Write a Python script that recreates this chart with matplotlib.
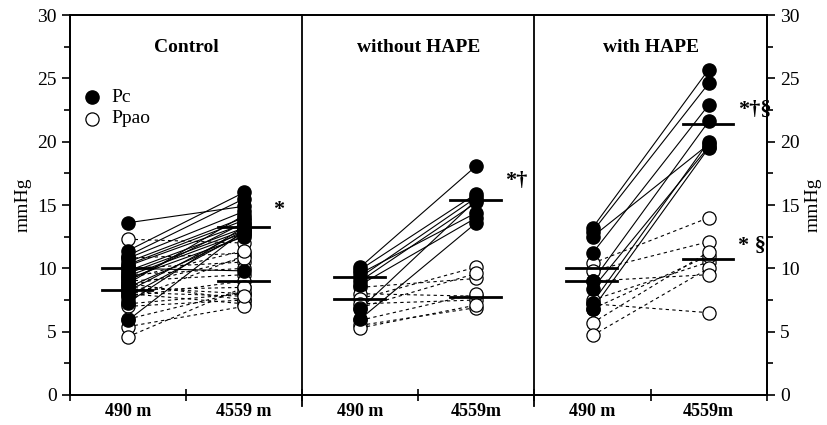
import matplotlib.pyplot as plt

plt.rcParams['font.family'] = ['Liberation Serif', 'DejaVu Serif']

panels = ['Control', 'without HAPE', 'with HAPE']
site_labels = ['490 m', '4559 m', '490 m', '4559m', '490 m', '4559m']

# Pc (filled) and Ppao (open) per subject, low altitude -> high altitude
pc_low = [
    [13.6, 11.4, 11.0, 10.8, 10.5, 10.3, 10.2, 10.0, 9.8, 9.6, 9.4, 9.2, 9.0, 8.8, 8.5, 8.2, 7.8, 7.3, 5.9],
    [10.1, 9.9, 9.6, 9.3, 9.0, 8.7, 6.8, 6.0],
    [13.2, 12.9, 12.5, 11.2, 9.0, 8.4, 7.3, 6.8],
]
pc_high = [
    [14.9, 16.0, 15.5, 14.5, 14.0, 13.8, 13.5, 9.8, 13.2, 13.0, 12.8, 12.5, 13.6, 14.2, 12.6, 13.0, 12.8, 13.3, 13.0],
    [18.1, 15.9, 14.4, 15.6, 15.2, 14.0, 15.4, 13.6],
    [25.7, 24.6, 19.8, 22.9, 21.6, 19.6, 20.0, 19.5],
]
ppao_low = [
    [12.3, 10.8, 10.0, 9.5, 9.0, 8.8, 8.5, 8.3, 8.0, 7.8, 7.5, 7.2, 7.0, 8.6, 9.2, 6.0, 5.4, 4.6, 8.1],
    [8.5, 8.0, 7.6, 7.2, 6.9, 5.9, 5.5, 5.3],
    [10.4, 9.8, 7.5, 6.8, 5.7, 4.7, 9.0, 7.2],
]
ppao_high = [
    [12.0, 11.2, 10.5, 10.0, 9.5, 7.5, 8.0, 8.5, 7.2, 9.0, 11.0, 8.0, 7.5, 10.8, 11.4, 8.2, 7.0, 8.5, 7.8],
    [9.2, 7.8, 10.1, 7.5, 9.6, 8.0, 6.9, 7.1],
    [14.0, 12.1, 10.5, 11.0, 11.3, 10.0, 9.5, 6.5],
]
# group means (horizontal bars): [pc_low, ppao_low, pc_high, ppao_high]
means = [
    [10.0, 8.3, 13.3, 9.0],
    [9.3, 7.6, 15.4, 7.7],
    [10.0, 9.0, 21.4, 10.7],
]
# significance marks: (text, y at 4559 m)
marks = [
    [('*', 14.6)],
    [('*\u2020', 16.9)],
    [('*\u2020\u00a7', 22.5), ('* \u00a7', 11.8)],
]

fig = plt.figure(figsize=(8.28, 4.25), dpi=100)
ax = fig.add_axes([0.0845, 0.0706, 0.8415, 0.894])
ax2 = ax.twinx()

MS = 9.5
for i in range(3):
    x0 = i * 4 + 1
    x1 = i * 4 + 3
    for a, b in zip(ppao_low[i], ppao_high[i]):
        ax.plot([x0, x1], [a, b], color='black', lw=0.8, ls=(0, (3, 3)), zorder=2)
    for a, b in zip(pc_low[i], pc_high[i]):
        ax.plot([x0, x1], [a, b], color='black', lw=0.8, zorder=2)
    n = len(ppao_low[i])
    ax.plot([x0] * n, ppao_low[i], 'o', ms=MS, mfc='white', mec='black', mew=0.9, zorder=3)
    ax.plot([x1] * n, ppao_high[i], 'o', ms=MS, mfc='white', mec='black', mew=0.9, zorder=3)
    n = len(pc_low[i])
    ax.plot([x0] * n, pc_low[i], 'o', ms=MS, color='black', zorder=4)
    ax.plot([x1] * n, pc_high[i], 'o', ms=MS, color='black', zorder=4)

    m = means[i]
    for xc, y in [(x0, m[0]), (x0, m[1]), (x1, m[2]), (x1, m[3])]:
        ax.plot([xc - 0.45, xc + 0.42], [y, y], color='black', lw=2, zorder=5)

    for txt, y in marks[i]:
        ax.text(x1 + 0.5, y, txt, fontsize=16, fontweight='bold', ha='left', va='center')

    ax.text(i * 4 + 2, 27.4, panels[i], fontsize=14, fontweight='bold', ha='center', va='center')

for xd in [4, 8]:
    ax.axvline(xd, color='black', lw=1.3, ymin=-0.03, clip_on=False)

ax.plot([0.38], [23.5], 'o', ms=MS, color='black')
ax.text(0.72, 23.5, 'Pc', fontsize=14, va='center')
ax.plot([0.38], [21.8], 'o', ms=MS, mfc='white', mec='black', mew=0.9)
ax.text(0.72, 21.8, 'Ppao', fontsize=14, va='center')

ax.set_xlim(0, 12)
ax.set_ylim(0, 30)
ax.set_xticks([0, 2, 4, 6, 8, 10, 12])
ax.set_xticklabels([])
ax.set_xticks([1, 3, 5, 7, 9, 11], minor=True)
ax.set_xticklabels(site_labels, minor=True, fontsize=13, fontweight='bold')
ax.tick_params(axis='x', which='minor', length=0, pad=6)
ax.tick_params(axis='x', which='major', direction='inout', length=8, width=1.2)

for a in (ax, ax2):
    a.set_ylim(0, 30)
    a.set_yticks(range(0, 31, 5))
    a.set_yticks([2.5 + 5 * k for k in range(6)], minor=True)
    a.tick_params(axis='y', which='both', labelsize=14, width=1.2)
    a.tick_params(axis='y', which='major', length=6)
    a.tick_params(axis='y', which='minor', length=4)
    a.set_ylabel('mmHg', fontsize=14)

for s in ax.spines.values():
    s.set_linewidth(1.3)
for s in ax2.spines.values():
    s.set_linewidth(1.3)

fig.savefig('out.png', dpi=100)
